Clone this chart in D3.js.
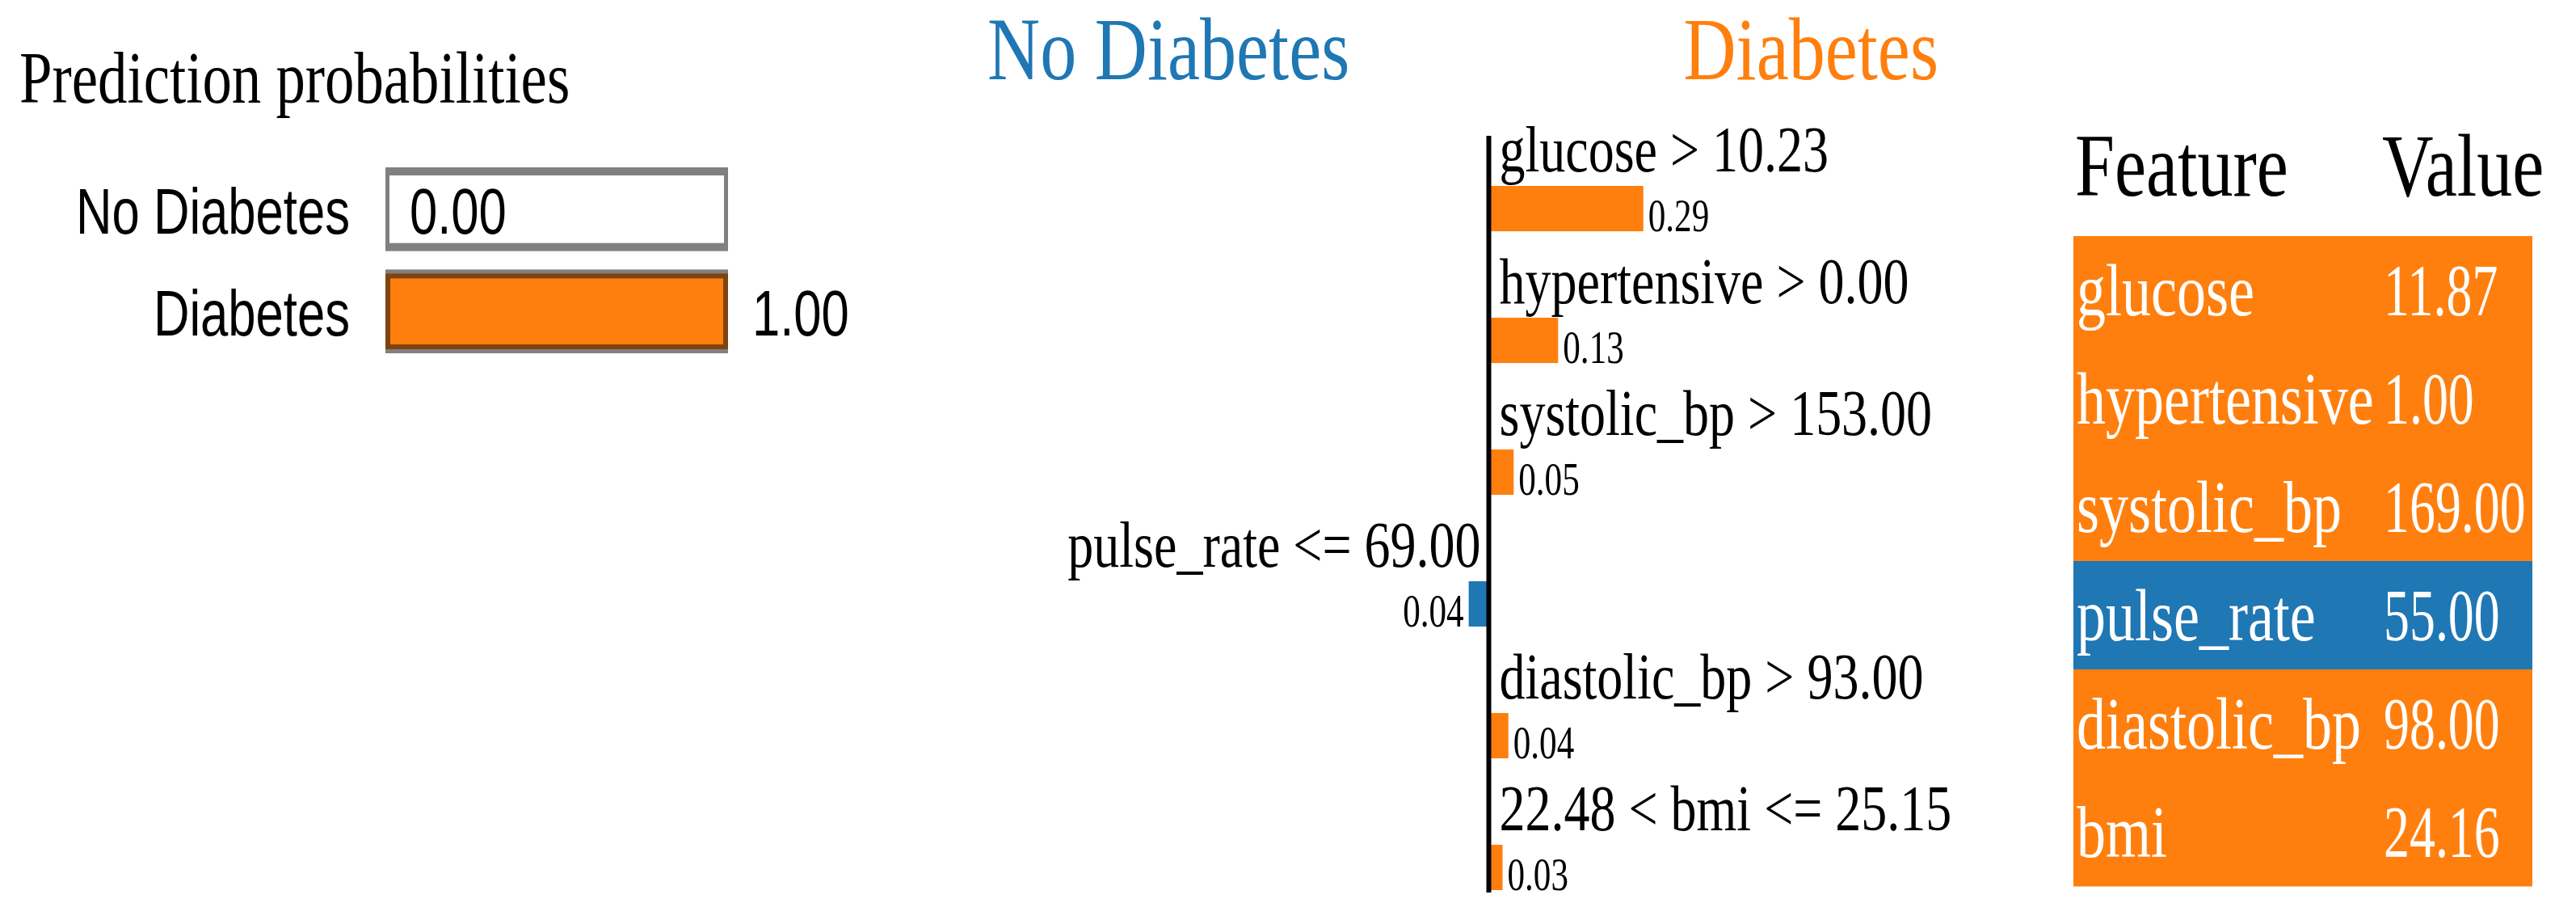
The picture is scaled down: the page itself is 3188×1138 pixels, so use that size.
<!DOCTYPE html>
<html>
<head>
<script src="https://d3js.org/d3.v7.min.js"></script>
<style>
  body { margin: 0; background: #fff; }
  svg { display: block; }
  .serif { font-family: "Liberation Serif", "Times New Roman", Times, serif; }
  .sans { font-family: "Liberation Sans", Arial, sans-serif; }
</style>
</head>
<body>
<script>
  // prediction probabilities
  var classNames = ["No Diabetes", "Diabetes"];
  var classProbs = [0.00, 1.00];

  // explanation weights
  var conditions = ["glucose > 10.23", "hypertensive > 0.00", "systolic_bp > 153.00",
    "pulse_rate <= 69.00", "diastolic_bp > 93.00", "22.48 < bmi <= 25.15"];
  var weights = [0.292, 0.131, 0.047, -0.038, 0.037, 0.026];

  // feature table
  var featureNames = ["glucose", "hypertensive", "systolic_bp", "pulse_rate", "diastolic_bp", "bmi"];
  var featureValues = ["11.87", "1.00", "169.00", "55.00", "98.00", "24.16"];

  var width = 3188, height = 1138;
  var orange = "#ff7f0e", blue = "#1f77b4";
  var squeeze = 0.8;

  var svg = d3.select("body").append("svg")
    .attr("width", width)
    .attr("height", height)
    .style("background", "#fff");

  // text is squashed horizontally like the original screenshot
  function addText(g, str, x, y, size, cls, k, anchor, fill) {
    return g.append("text")
      .text(str)
      .attr("class", cls)
      .attr("transform", "translate(" + x + "," + y + ") scale(" + k + ",1)")
      .attr("text-anchor", anchor || "start")
      .attr("font-size", size)
      .attr("fill", fill || "#000");
  }

  // ---------- left: prediction probabilities ----------
  var left = svg.append("g");
  addText(left, "Prediction probabilities", 24, 127, 91, "serif", squeeze);

  var px = d3.scaleLinear().domain([0, 1]).range([477, 901]);
  var py = d3.scaleBand().domain(classNames).range([207, 437]).paddingInner(0.18);
  var classColor = d3.scaleOrdinal().domain(classNames).range([blue, orange]);

  var rows = left.selectAll("g.prob")
    .data(classNames)
    .enter().append("g")
    .attr("class", "prob");

  rows.append("rect")
    .attr("x", px(0))
    .attr("y", function(d) { return py(d); })
    .attr("width", px(1) - px(0))
    .attr("height", py.bandwidth())
    .attr("fill", "#808080");
  rows.append("rect")
    .attr("x", px(0) + 5)
    .attr("y", function(d) { return py(d) + 10; })
    .attr("width", px(1) - px(0) - 10)
    .attr("height", py.bandwidth() - 20)
    .attr("fill", "#fff");
  rows.append("rect")
    .attr("x", px(0) + 3)
    .attr("y", function(d) { return py(d) + 8; })
    .attr("width", function(d, i) { return Math.max(0, px(classProbs[i]) - px(0) - 6); })
    .attr("height", py.bandwidth() - 16)
    .attr("fill", function(d) { return classColor(d); })
    .attr("stroke", "#7f4310")
    .attr("stroke-width", 6)
    .style("display", function(d, i) { return classProbs[i] > 0 ? null : "none"; });

  rows.each(function(d, i) {
    var g = d3.select(this);
    var base = py(d) + py.bandwidth() / 2 + 30;
    addText(g, d, 433, base, 80, "sans", 0.77, "end");
    addText(g, classProbs[i].toFixed(2), px(classProbs[i]) + 30, base, 80, "sans", 0.77);
  });

  // ---------- middle: feature weights ----------
  var mid = svg.append("g");
  addText(mid, classNames[0], 1222, 98, 110, "serif", 0.82, "start", blue);
  addText(mid, classNames[1], 2399, 98, 110, "serif", 0.82, "end", orange);

  var wx = d3.scaleLinear().domain([-0.3, 0.3]).range([1646, 2039]);
  var wy = d3.scaleBand().domain(conditions).range([230, 1101]).paddingInner(0.656);

  mid.selectAll("rect.w")
    .data(weights)
    .enter().append("rect")
    .attr("class", "w")
    .attr("x", function(d) { return Math.min(wx(0), wx(d)); })
    .attr("y", function(d, i) { return wy(conditions[i]); })
    .attr("width", function(d) { return Math.abs(wx(d) - wx(0)); })
    .attr("height", wy.bandwidth())
    .attr("fill", function(d) { return d > 0 ? orange : blue; });

  mid.append("line")
    .attr("x1", wx(0)).attr("x2", wx(0))
    .attr("y1", 168).attr("y2", 1104)
    .attr("stroke", "#000")
    .attr("stroke-width", 6);

  weights.forEach(function(w, i) {
    var top = wy(conditions[i]);
    var pos = w > 0;
    addText(mid, conditions[i], pos ? wx(0) + 13 : wx(0) - 10, top - 18, 80, "serif", squeeze, pos ? "start" : "end");
    addText(mid, Math.abs(w).toFixed(2), pos ? wx(w) + 6 : wx(w) - 6, top + wy.bandwidth(), 56, "serif", 0.77, pos ? "start" : "end");
  });

  // ---------- right: feature / value table ----------
  var tab = svg.append("g");
  var tx0 = 2566, tx1 = 3134, tcol = 2950;
  var ty = d3.scaleBand().domain(featureNames).range([292, 1096]);

  addText(tab, "Feature", 2568, 242, 110, "serif", squeeze);
  addText(tab, "Value", tcol - 2, 242, 110, "serif", squeeze);

  var trow = tab.selectAll("g.row")
    .data(featureNames)
    .enter().append("g")
    .attr("class", "row");

  trow.append("rect")
    .attr("x", tx0)
    .attr("y", function(d) { return ty(d); })
    .attr("width", tx1 - tx0)
    .attr("height", ty.bandwidth() + 0.5)
    .attr("fill", function(d, i) { return weights[i] > 0 ? orange : blue; });

  trow.each(function(d, i) {
    var g = d3.select(this);
    var base = ty(d) + 98;
    addText(g, d, 2570, base, 90, "serif", squeeze, "start", "#fff");
    addText(g, featureValues[i], tcol, base, 90, "serif", 0.71, "start", "#fff");
  });
</script>
</body>
</html>
